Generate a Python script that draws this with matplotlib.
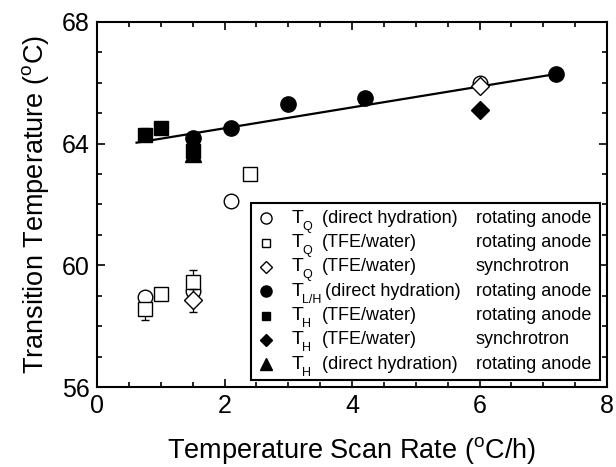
import numpy as np
import matplotlib.pyplot as plt

plt.rcParams['font.family'] = ['Liberation Sans', 'DejaVu Sans']
plt.rcParams['mathtext.fontset'] = 'custom'
plt.rcParams['mathtext.rm'] = 'Liberation Sans'
plt.rcParams['mathtext.it'] = 'Liberation Sans'

# T_Q (direct hydration), rotating anode
tq_dh_x = [0.75, 1.5, 2.1, 6.0]
tq_dh_y = [58.95, 59.15, 62.1, 66.0]

# T_Q (TFE/water), rotating anode
tq_tfe_x = [0.75, 1.0, 1.5, 2.4]
tq_tfe_y = [58.55, 59.05, 59.45, 63.0]
tq_tfe_err = [0.35, 0.0, 0.4, 0.0]

# T_Q (TFE/water), synchrotron
tq_syn_x = [1.5, 6.0]
tq_syn_y = [58.85, 65.9]
tq_syn_err = [0.38, 0.0]

# T_L/H (direct hydration), rotating anode
tlh_x = [1.5, 2.1, 3.0, 4.2, 7.2]
tlh_y = [64.2, 64.5, 65.3, 65.5, 66.3]

# T_H (TFE/water), rotating anode
th_tfe_x = [0.75, 1.0, 1.5]
th_tfe_y = [64.3, 64.5, 63.75]
th_tfe_err = [0.2, 0.0, 0.12]

# T_H (TFE/water), synchrotron
th_syn_x = [6.0]
th_syn_y = [65.1]

# T_H (direct hydration), rotating anode
th_dh_x = [1.5]
th_dh_y = [63.65]
th_dh_err = [0.15]

# linear fit drawn through the high-temperature transition
fit_slope = 0.343
fit_intercept = 63.82
fit_range = [0.62, 7.2]

fig = plt.figure(figsize=(6.16, 4.67), dpi=100)
ax = fig.add_axes([0.1575, 0.1713, 0.828, 0.7816])

xf = np.array(fit_range)
ax.plot(xf, fit_slope * xf + fit_intercept, color='black', lw=1.6, zorder=2)

ekw = dict(ecolor='black', elinewidth=0.9, capsize=3, capthick=0.9, ls='none')

ax.errorbar(tq_tfe_x, tq_tfe_y, yerr=tq_tfe_err, marker='s', ms=10.5,
            mfc='white', mec='black', mew=1.0, zorder=3, **ekw)
ax.errorbar(tq_syn_x, tq_syn_y, yerr=tq_syn_err, marker='D', ms=9.5,
            mfc='white', mec='black', mew=1.0, zorder=4, **ekw)
ax.plot(tq_dh_x, tq_dh_y, ls='none', marker='o', ms=10.5, mfc='white',
        mec='black', mew=1.0, zorder=3)

ax.errorbar(th_tfe_x, th_tfe_y, yerr=th_tfe_err, marker='s', ms=10.5,
            mfc='black', mec='black', zorder=5, **ekw)
ax.errorbar(th_dh_x, th_dh_y, yerr=th_dh_err, marker='^', ms=11,
            mfc='black', mec='black', zorder=5, **ekw)
ax.plot(th_syn_x, th_syn_y, ls='none', marker='D', ms=9.5, color='black', zorder=5)
ax.plot(tlh_x, tlh_y, ls='none', marker='o', ms=11, color='black', zorder=5)

ax.set_xlim(0, 8)
ax.set_ylim(56, 68)
ax.set_xticks([0, 2, 4, 6, 8])
ax.set_xticks(np.arange(0, 8.01, 0.5), minor=True)
ax.set_yticks([56, 60, 64, 68])
ax.set_yticks(np.arange(56, 68.01, 1), minor=True)
ax.tick_params(which='both', direction='in', top=True, right=True, width=1.2)
ax.tick_params(which='major', length=6, labelsize=18, pad=5)
ax.tick_params(which='minor', length=3.5)
for s in ax.spines.values():
    s.set_linewidth(1.5)

ax.set_xlabel(r'Temperature Scan Rate ($^{\rm o}$C/h)', fontsize=19.5, labelpad=12)
ax.set_ylabel(r'Transition Temperature ($^{\rm o}$C)', fontsize=19.5, labelpad=8)

# legend table: marker, transition, sample prep, x-ray source
rows = [
    ('o', 'white', 'Q', '(direct hydration)', 'rotating anode'),
    ('s', 'white', 'Q', '(TFE/water)', 'rotating anode'),
    ('D', 'white', 'Q', '(TFE/water)', 'synchrotron'),
    ('o', 'black', 'L/H', '(direct hydration)', 'rotating anode'),
    ('s', 'black', 'H', '(TFE/water)', 'rotating anode'),
    ('D', 'black', 'H', '(TFE/water)', 'synchrotron'),
    ('^', 'black', 'H', '(direct hydration)', 'rotating anode'),
]
key_size = {'o': 8, 's': 6, 'D': 6, '^': 8.5}
box = plt.Rectangle((0.301, 0.019), 0.685, 0.486, transform=ax.transAxes,
                    fill=True, facecolor='white', edgecolor='black', lw=1.5, zorder=6)
ax.add_patch(box)
y0 = 0.462
dy = 0.0666
for i, (mk, fc, sub, prep, src) in enumerate(rows):
    yy = y0 - i * dy
    ax.plot([0.331], [yy], transform=ax.transAxes, marker=mk, ms=key_size[mk],
            mfc=fc, mec='black', mew=1.0, ls='none', clip_on=False, zorder=7)
    ax.text(0.3818, yy, 'T', transform=ax.transAxes, fontsize=14,
            va='center', ha='left', zorder=7)
    ax.annotate(sub, xy=(0.3818, yy), xycoords=ax.transAxes, xytext=(7.5, -6),
                textcoords='offset points', fontsize=9, va='center', ha='left', zorder=7)
    ax.text(0.447 if sub == 'L/H' else 0.4406, yy, prep, transform=ax.transAxes,
            fontsize=13, va='center', ha='left', zorder=7)
    ax.text(0.743, yy, src, transform=ax.transAxes, fontsize=13,
            va='center', ha='left', zorder=7)

fig.savefig('out.png', dpi=100)
